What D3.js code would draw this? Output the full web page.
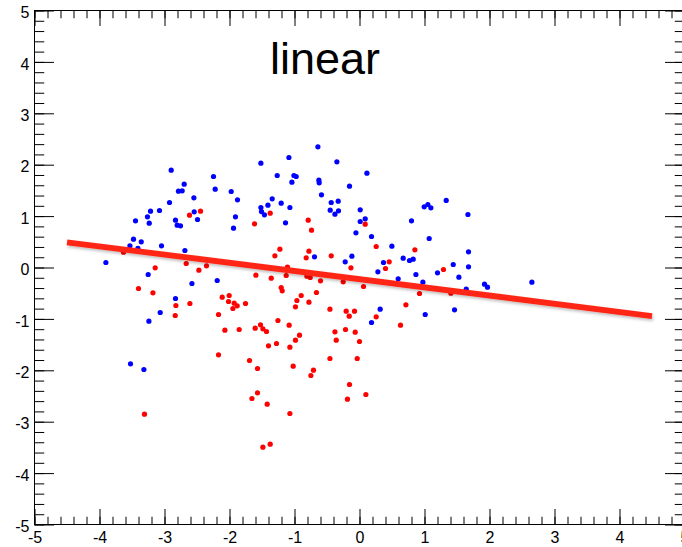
<!DOCTYPE html>
<html>
<head>
<meta charset="utf-8">
<script src="https://cdn.jsdelivr.net/npm/d3@7"></script>
<style>
  html, body { margin: 0; padding: 0; background: #fff; }
  svg { display: block; }
  text { font-family: "Liberation Sans", Arial, Helvetica, sans-serif; }
</style>
</head>
<body>
<script>
// ---- data ----
const titleText = "linear";
const xTickValues = [-5, -4, -3, -2, -1, 0, 1, 2, 3, 4, 5];
const yTickValues = [-5, -4, -3, -2, -1, 0, 1, 2, 3, 4, 5];

const blueX = [-2.897,-2.246,-2.697,-2.785,-2.728,-2.220,-1.974,-1.877,-2.548,-2.923,
  -3.215,-3.077,-3.262,-3.235,-3.446,-2.543,-2.492,-2.831,-2.805,-2.754,
  -1.908,-1.938,-3.477,-3.358,-3.532,-3.409,-3.046,-2.686,-3.902,-3.251,
  -2.189,-0.640,-1.086,-1.517,-0.348,0.114,-1.266,-1.009,-0.974,-1.040,
  -0.625,-0.620,-0.154,-0.585,-1.343,-1.409,-1.205,-1.517,-1.508,-1.462,
  -1.071,-0.435,-0.328,-0.451,-0.378,-0.323,0.011,-1.138,0.011,0.088,
  -0.055,0.185,-0.692,-0.117,-0.220,0.283,1.334,0.995,1.052,1.098,
  1.668,0.800,1.072,0.498,0.672,0.769,0.826,1.677,0.369,1.442,
  1.677,0.595,0.868,1.200,1.529,0.975,1.923,1.969,2.652,1.642,
  0.318,0.185,1.011,1.462,-2.578,-2.831,-3.066,-3.240,-3.523,-3.317];
const blueY = [1.893,1.770,1.621,1.484,1.492,1.523,1.479,1.317,1.356,1.265,
  1.095,1.109,0.986,0.862,0.909,1.084,0.934,0.920,0.823,0.811,
  0.986,0.765,0.551,0.500,0.422,0.375,0.422,0.331,0.097,-0.136,
  -0.253,2.348,2.140,2.029,2.056,1.835,1.790,1.790,1.770,1.660,
  1.698,1.648,1.582,1.414,1.337,1.212,1.251,1.167,1.089,1.025,
  1.167,1.265,1.290,1.115,1.037,1.103,1.123,0.870,0.895,0.947,
  0.675,0.603,0.208,0.220,0.111,-0.084,1.304,1.181,1.226,1.161,
  1.031,0.909,0.564,0.414,0.181,0.136,0.161,0.305,0.097,0.058,
  0.014,-0.220,-0.136,-0.103,-0.189,-0.286,-0.325,-0.383,-0.286,-0.422,
  -0.811,-1.070,-0.914,-0.823,-0.311,-0.603,-0.875,-1.045,-1.874,-1.984];

const redX = [-2.615,-2.446,-3.631,-3.143,-2.666,-2.471,-2.354,-1.374,-1.615,-0.789,
  -0.738,0.088,0.257,-1.225,-1.302,-0.778,-0.820,-0.435,-0.132,-1.108,
  -1.594,-1.358,-1.128,-0.809,-0.758,-0.600,0.852,0.457,0.400,1.292,
  0.923,1.406,0.714,0.257,0.631,-3.400,-3.178,-2.825,-2.609,-2.835,
  -2.112,-2.005,-2.015,-1.928,-1.882,-1.948,-2.169,-2.071,-1.851,-2.169,
  -3.308,-0.251,0.062,-1.205,-1.189,-0.897,-0.963,-0.662,-0.778,-0.985,
  -1.754,-0.455,-0.205,-0.158,-0.077,-1.255,-1.082,-1.523,-1.605,-1.486,
  -1.431,-0.923,-0.985,-1.277,-1.400,-1.071,-0.378,-0.358,-0.215,-0.066,
  0.000,-1.692,-1.569,-0.455,-0.035,-1.020,-0.708,-0.748,-0.154,-0.185,
  0.098,-1.569,-1.655,-1.420,-1.071,-1.486,-1.374];
const redY = [1.018,1.095,0.298,-0.006,0.078,-0.053,0.033,1.056,0.850,0.920,
  0.726,0.842,0.409,0.356,0.228,0.317,0.189,0.228,-0.006,0.006,
  -0.150,-0.208,-0.156,-0.169,-0.195,-0.259,0.344,0.111,-0.019,-0.039,
  -0.506,-0.500,-0.726,-0.959,-1.123,-0.409,-0.492,-0.739,-0.700,-0.934,
  -0.578,-0.545,-0.661,-0.695,-0.745,-0.798,-0.914,-1.220,-1.206,-1.698,
  -2.854,-0.278,-0.370,-0.389,-0.453,-0.545,-0.642,-0.486,-0.675,-0.765,
  -0.700,-0.811,-0.850,-0.947,-0.850,-1.031,-1.123,-1.115,-1.181,-1.193,
  -1.245,-1.317,-1.414,-1.479,-1.523,-1.551,-1.251,-1.414,-1.206,-1.259,
  -1.440,-1.809,-1.965,-1.770,-1.770,-1.920,-1.998,-2.101,-2.276,-2.562,
  -2.471,-2.438,-2.549,-2.660,-2.840,-3.496,-3.438];

const fitX = [-4.5, 4.5];
const fitY = [0.491, -0.944];

// ---- drawing ----
const W = 682, H = 547;
const frame = { left: 34.5, right: 684.5, top: 10.5, bottom: 524.5 };

const svg = d3.select("body").append("svg")
  .attr("width", W).attr("height", H)
  .attr("viewBox", `0 0 ${W} ${H}`);
svg.append("rect").attr("width", W).attr("height", H).attr("fill", "#fff");

const defs = svg.append("defs");
const f = defs.append("filter").attr("id", "shadow")
  .attr("x", "-10%").attr("y", "-50%").attr("width", "120%").attr("height", "300%");
f.append("feDropShadow").attr("dx", 1).attr("dy", 2).attr("stdDeviation", 1.5)
  .attr("flood-color", "#000").attr("flood-opacity", 0.25);

const x = d3.scaleLinear().domain([-5, 5]).range([frame.left, frame.right]);
const y = d3.scaleLinear().domain([-5, 5]).range([frame.bottom, frame.top]);

const minorX = d3.range(-50, 51).map(i => i / 10).filter((v, i) => Math.abs(v * 5 - Math.round(v * 5)) < 1e-9);
const minorY = minorX.slice();
const fmt = d => String(d);

function styleAxis(g) {
  g.select(".domain").remove();
  g.selectAll(".tick line").attr("stroke", "#000").attr("stroke-width", 1);
}

// bottom axis
svg.append("g").attr("transform", `translate(0,${frame.bottom})`)
  .call(d3.axisBottom(x).tickValues(minorX).tickSize(-7.75).tickFormat(""))
  .call(styleAxis);
svg.append("g").attr("transform", `translate(0,${frame.bottom})`)
  .call(d3.axisBottom(x).tickValues(xTickValues).tickSize(-15.5).tickPadding(7.6).tickFormat(fmt))
  .call(styleAxis)
  .call(g => g.selectAll("text").attr("font-size", 16).attr("fill", "#000")
    .attr("font-family", '"Liberation Sans", Arial, Helvetica, sans-serif'));
// top axis
svg.append("g").attr("transform", `translate(0,${frame.top})`)
  .call(d3.axisTop(x).tickValues(minorX).tickSize(-7.75).tickFormat(""))
  .call(styleAxis);
svg.append("g").attr("transform", `translate(0,${frame.top})`)
  .call(d3.axisTop(x).tickValues(xTickValues).tickSize(-15.5).tickFormat(""))
  .call(styleAxis);
// left axis
svg.append("g").attr("transform", `translate(${frame.left},0)`)
  .call(d3.axisLeft(y).tickValues(minorY).tickSize(-9.75).tickFormat(""))
  .call(styleAxis);
svg.append("g").attr("transform", `translate(${frame.left},0)`)
  .call(d3.axisLeft(y).tickValues(yTickValues).tickSize(-19.5).tickPadding(5).tickFormat(fmt))
  .call(styleAxis)
  .call(g => g.selectAll("text").attr("font-size", 16).attr("fill", "#000")
    .attr("dy", "0.45em")
    .attr("font-family", '"Liberation Sans", Arial, Helvetica, sans-serif'));
// right axis
svg.append("g").attr("transform", `translate(${frame.right},0)`)
  .call(d3.axisRight(y).tickValues(minorY).tickSize(-9.75).tickFormat(""))
  .call(styleAxis);
svg.append("g").attr("transform", `translate(${frame.right},0)`)
  .call(d3.axisRight(y).tickValues(yTickValues).tickSize(-19.5).tickFormat(""))
  .call(styleAxis);

// frame
svg.append("rect")
  .attr("x", frame.left).attr("y", frame.top)
  .attr("width", frame.right - frame.left).attr("height", frame.bottom - frame.top)
  .attr("fill", "none").attr("stroke", "#000").attr("stroke-width", 1);

// points
const pts = svg.append("g");
pts.selectAll("circle.blue").data(d3.range(blueX.length)).join("circle")
  .attr("class", "blue")
  .attr("cx", i => x(blueX[i])).attr("cy", i => y(blueY[i]))
  .attr("r", 2.6).attr("fill", "#0000ff");
pts.selectAll("circle.red").data(d3.range(redX.length)).join("circle")
  .attr("class", "red")
  .attr("cx", i => x(redX[i])).attr("cy", i => y(redY[i]))
  .attr("r", 2.6).attr("fill", "#ff0000");

// fit line
const line = d3.line().x(i => x(fitX[i])).y(i => y(fitY[i]));
svg.append("path")
  .datum(d3.range(fitX.length))
  .attr("d", line)
  .attr("fill", "none")
  .attr("stroke", "rgb(255,40,25)")
  .attr("stroke-width", 5.8)
  .attr("filter", "url(#shadow)");

// title
svg.append("text")
  .attr("x", 325).attr("y", 73.5)
  .attr("text-anchor", "middle")
  .attr("font-size", 45)
  .attr("fill", "#000")
  .text(titleText);
</script>
</body>
</html>
